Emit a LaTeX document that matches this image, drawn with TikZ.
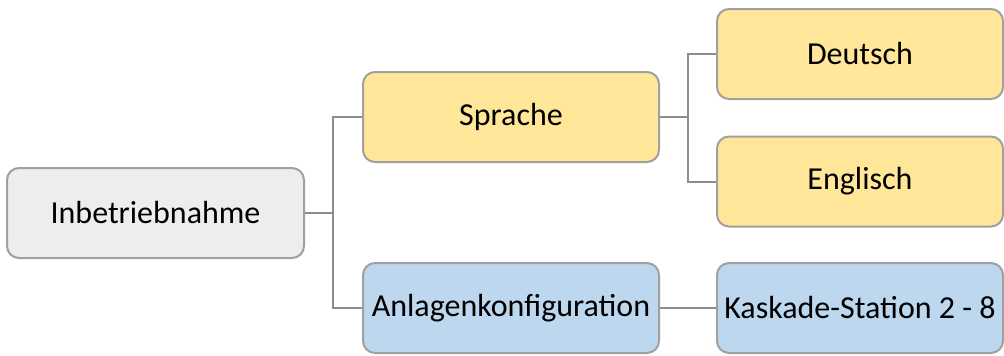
\documentclass[tikz,border=0pt]{standalone}
\usepackage{fontspec}
\setmainfont{Carlito}
\begin{document}
\begin{tikzpicture}[x=1pt,y=-1pt,
  box/.style={draw=boxborder,line width=2pt,rounded corners=12pt,inner sep=0pt,
    minimum width=#1,minimum height=90pt,font=\fontsize{32}{38}\selectfont,text=black},
  box/.default=296pt,
  conn/.style={draw=connline,line width=2pt}]
\definecolor{boxborder}{HTML}{A0A0A0}
\definecolor{connline}{HTML}{8C8C8C}
\definecolor{greyfill}{HTML}{EDEDED}
\definecolor{yellowfill}{HTML}{FFE699}
\definecolor{bluefill}{HTML}{BDD7EE}
\useasboundingbox (0,0) rectangle (1004,356);
\node[box=297pt,fill=greyfill] (root) at (155.5,213) {Inbetriebnahme};
\node[box,fill=yellowfill] (spr) at (511,117) {Sprache};
\node[box,fill=bluefill] (anl) at (511,308) {Anlagenkonfiguration};
\node[box=286pt,fill=yellowfill] (de) at (860,54) {Deutsch};
\node[box=286pt,fill=yellowfill] (en) at (860,181.5) {Englisch};
\node[box=286pt,fill=bluefill] (ks) at (860,308) {Kaskade-Station 2 - 8};
\coordinate (j1) at (333,213);
\coordinate (j2) at (688,117);
\draw[conn] (root.east) -- (j1) |- (spr.west);
\draw[conn] (j1) |- (anl.west);
\draw[conn] (spr.east) -- (j2) |- (de.west);
\draw[conn] (j2) |- (en.west);
\draw[conn] (anl.east) -- (ks.west);
\end{tikzpicture}
\end{document}
